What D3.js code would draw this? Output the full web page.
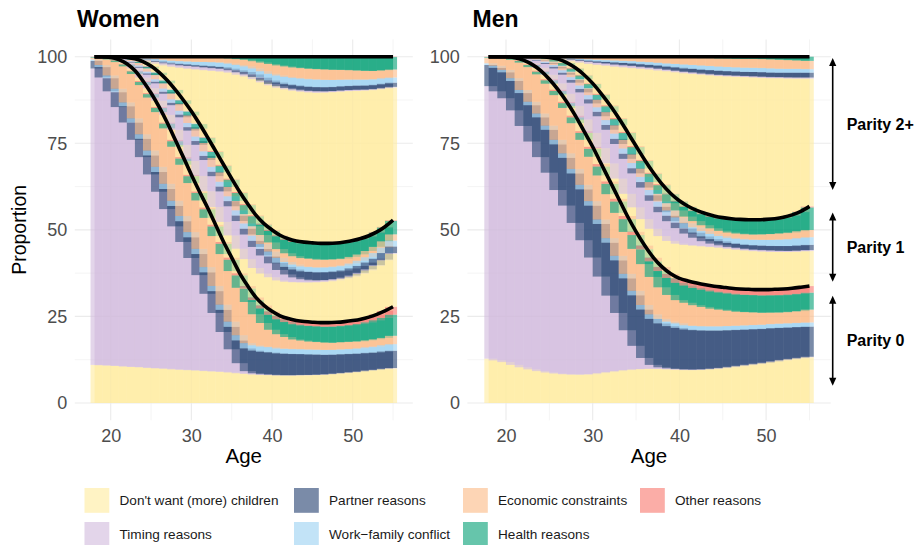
<!DOCTYPE html>
<html>
<head>
<meta charset="utf-8">
<script src="https://cdn.jsdelivr.net/npm/d3@7"></script>
<style>
  body { margin: 0; background: #fff; }
  text { font-family: "Liberation Sans", Arial, Helvetica, sans-serif; }
</style>
</head>
<body>
<script>
// ---- categories -------------------------------------------------------
const ages = [18,19,20,21,22,23,24,25,26,27,28,29,30,31,32,33,34,35,36,37,38,39,40,41,42,43,44,45,46,47,48,49,50,51,52,53,54,55];
const reasons = ["Don't want (more) children", "Timing reasons", "Partner reasons",
                 "Work\u2212family conflict", "Economic constraints", "Health reasons", "Other reasons"];
const parityLabels = ["Parity 0", "Parity 1", "Parity 2+"];
const panelTitles = ["Women", "Men"];
const xTicks = [20, 30, 40, 50];
const xMinorTicks = [25, 35, 45, 55];
const yTicks = [0, 25, 50, 75, 100];
const yMinorTicks = [12.5, 37.5, 62.5, 87.5];
// bracket extents (in percent) for the parity annotations
const bracketTop = [31, 55, 99.6];
const bracketBottom = [5, 35, 61.5];

// ---- women, parity 0 ----------------------------------------------------
const w0Dont    = [11,10.9,10.8,10.7,10.5,10.4,10.3,10.1,10,9.9,9.7,9.6,9.5,9.4,9.2,9.1,9,8.8,8.6,8.4,8.2,8.1,8,7.9,7.9,7.9,8,8,8.1,8.2,8.4,8.6,8.8,9,9.3,9.5,9.8,10];
const w0Timing  = [85.6,83.1,79.2,74.8,70.5,65.6,60.7,55.9,51,46.1,41.3,36.9,32.5,27.6,22.3,16.9,11.5,6.7,2.9,0.8,0.4,0.2,0.15,0.1,0.1,0.1,0.1,0.1,0.1,0.1,0.1,0.1,0.1,0.1,0.1,0.1,0.1,0.1];
const w0Partner = [2.2,3,3.8,4.3,4.7,5,5.3,5.5,5.7,5.8,5.9,6,6,6.1,6.2,6.3,6.4,6.5,6.6,6.6,6.6,6.5,6.4,6.3,6.2,6.1,6,5.9,5.8,5.6,5.5,5.4,5.3,5.2,5.1,5,5,5];
const w0WorkFam = [0.4,0.6,0.8,1.0,1.1,1.2,1.3,1.4,1.5,1.5,1.5,1.5,1.5,1.5,1.5,1.5,1.5,1.5,1.5,1.5,1.5,1.5,1.5,1.4,1.4,1.4,1.4,1.4,1.4,1.4,1.4,1.4,1.4,1.5,1.6,1.7,1.8,1.9];
const w0Econ    = [0.5,2.0,4.6,7.7,10.4,12.8,14.2,15.3,15.8,16.0,15.6,14.8,14.2,14.0,14.2,14.4,14.6,14.6,13.7,11.9,9.0,6.8,5.0,4.1,3.4,2.8,2.5,2.3,2.2,2.1,2.0,2.1,2.1,2.0,2.0,2.1,2.1,2.4];
const w0Health  = [0.2,0.3,0.4,0.5,0.6,0.8,0.9,1.0,1.2,1.4,1.6,1.8,2.0,2.2,2.5,2.8,3.0,3.3,3.6,3.9,4.1,4.2,4.3,4.3,4.3,4.4,4.4,4.5,4.5,4.6,4.7,4.7,4.8,5.0,5.2,5.5,5.8,6.1];
const w0Other   = [0.1,0.1,0.2,0.2,0.2,0.2,0.3,0.3,0.3,0.3,0.4,0.4,0.4,0.4,0.5,0.5,0.5,0.6,0.6,0.7,0.8,0.9,1.0,1.0,1.0,1.1,1.1,1.1,1.1,1.2,1.2,1.2,1.3,1.4,1.5,1.7,2.0,2.3];

// ---- women, parity 1 ----------------------------------------------------
const w1Dont    = [0,0,0.05,0.1,0.3,0.6,1.0,1.4,1.8,2.2,2.9,3.5,4.0,4.5,4.7,5.1,5.8,6.4,7.1,7.8,8.5,9.2,9.8,10.2,10.6,11.0,11.3,11.5,11.7,11.9,12.1,12.4,12.7,13.1,13.5,14.0,14.6,15.3];
const w1Timing  = [0,0,0.1,0.4,0.9,1.7,2.8,3.9,5.0,6.1,7.1,8.0,8.8,9.0,9.0,8.9,8.8,8.4,8.0,7.1,6.1,5.2,4.0,3.0,2.1,1.4,0.9,0.6,0.5,0.4,0.4,0.3,0.3,0.3,0.3,0.2,0.2,0.2];
const w1Partner = [0,0,0,0.1,0.1,0.2,0.3,0.4,0.5,0.6,0.7,0.8,1.0,1.1,1.2,1.3,1.4,1.5,1.6,1.7,1.8,1.9,2.0,2.1,2.2,2.3,2.3,2.4,2.3,2.3,2.2,2.1,2.1,2.0,2.0,1.9,1.9,1.9];
const w1WorkFam = [0,0,0,0.1,0.1,0.2,0.4,0.5,0.7,0.9,1.0,1.1,1.2,1.3,1.3,1.4,1.4,1.4,1.5,1.5,1.5,1.4,1.4,1.4,1.4,1.4,1.4,1.4,1.4,1.4,1.4,1.4,1.4,1.5,1.5,1.6,1.6,1.7];
const w1Econ    = [0,0,0.03,0.1,0.2,0.4,0.7,0.9,1.2,1.5,1.7,2.0,2.2,2.3,2.4,2.6,2.7,2.7,2.7,2.7,2.7,2.6,2.6,2.5,2.5,2.4,2.4,2.4,2.3,2.2,2.1,2.0,1.9,1.8,1.8,1.8,1.8,1.8];
const w1Health  = [0,0,0.02,0.05,0.1,0.2,0.3,0.5,0.7,0.8,1.0,1.0,1.1,1.3,1.5,1.7,1.9,2.1,2.3,2.6,2.9,3.0,3.3,3.7,3.9,4.1,4.3,4.4,4.5,4.5,4.5,4.6,4.5,4.4,4.2,4.1,4.0,3.9];
const w1Other   = [0,0,0,0,0.1,0.1,0.1,0.2,0.1,0.1,0.1,0.1,0.1,0.1,0.2,0.3,0.3,0.3,0.3,0.3,0.3,0.3,0.3,0.3,0.3,0.3,0.3,0.2,0.2,0.2,0.2,0.2,0.2,0.2,0.2,0.2,0.2,0.2];

// ---- women, parity 2+ ---------------------------------------------------
const w2Dont    = [0,0,0,0,0.1,0.3,0.6,1.3,2.5,4.3,6.6,9.3,12.3,15.7,19.3,23.1,26.9,30.6,33.9,36.9,39.4,40.8,41.6,42.5,43.0,43.3,43.4,43.4,43.5,43.6,43.6,43.5,43.2,42.7,42.0,41.1,39.9,38.3];
const w2Timing  = [0,0,0,0,0.05,0.1,0.25,0.4,0.5,0.6,0.7,0.7,0.8,0.8,0.8,0.8,0.8,0.7,0.7,0.6,0.6,0.5,0.4,0.4,0.4,0.4,0.4,0.4,0.4,0.3,0.3,0.3,0.3,0.3,0.2,0.2,0.2,0.2];
const w2Partner = [0,0,0,0,0,0.05,0.1,0.2,0.3,0.3,0.3,0.4,0.4,0.4,0.5,0.5,0.5,0.5,0.6,0.7,0.8,0.9,1.0,1.1,1.1,1.2,1.2,1.2,1.2,1.2,1.2,1.2,1.2,1.2,1.2,1.2,1.2,1.2];
const w2WorkFam = [0,0,0,0,0,0.05,0.15,0.3,0.5,0.6,0.7,0.8,0.9,1.0,1.1,1.2,1.3,1.4,1.5,1.6,1.7,1.8,1.9,2.0,2.1,2.1,2.2,2.2,2.2,2.1,2.0,1.9,1.8,1.7,1.7,1.6,1.6,1.5];
const w2Econ    = [0,0,0,0,0.05,0.1,0.25,0.4,0.6,0.8,1.0,1.1,1.2,1.2,1.2,1.3,1.4,1.5,1.7,1.9,2.1,2.5,2.8,2.9,3.0,3.0,3.0,3.0,3.0,3.0,2.9,2.8,2.7,2.6,2.5,2.4,2.3,2.3];
const w2Health  = [0,0,0,0,0,0,0.05,0.1,0.1,0.2,0.2,0.2,0.2,0.3,0.3,0.3,0.3,0.5,0.7,0.9,1.2,1.6,2.0,2.4,2.7,3.0,3.2,3.4,3.5,3.6,3.7,3.7,3.8,3.9,4.0,4.0,3.8,3.6];
const w2Other   = [0,0,0,0,0,0,0,0,0,0,0,0,0,0,0,0,0,0,0,0,0.1,0.1,0.1,0.1,0.1,0.1,0.1,0.1,0.1,0.1,0.1,0.1,0.1,0.1,0.1,0.1,0.1,0.1];

// ---- men, parity 0 ------------------------------------------------------
const m0Dont    = [12.8,12.3,11.8,11,10.3,9.7,9.2,8.8,8.5,8.3,8.2,8.2,8.3,8.6,8.9,9.2,9.5,9.7,9.8,9.9,9.8,9.7,9.6,9.5,9.5,9.6,9.8,10,10.3,10.6,10.9,11.2,11.5,11.9,12.3,12.6,12.9,13.2];
const m0Timing  = [78.7,77.7,76.2,73.5,69.7,65.8,61.8,57.7,53,48.7,43.8,38.8,33.7,27.9,22.1,16.8,11.5,6.8,3.2,1.1,0.5,0.3,0.2,0.15,0.15,0.15,0.15,0.15,0.15,0.15,0.15,0.15,0.15,0.15,0.15,0.15,0.15,0.15];
const m0Partner = [6.1,6.8,7.5,8.5,9.5,10.5,11.5,12.4,13.2,13.8,14.3,14.7,15,15.2,15.3,15.2,15,14.6,14,13.3,12.7,12.2,11.9,11.6,11.4,11.2,11.0,10.8,10.6,10.4,10.2,10.0,9.8,9.6,9.3,9.1,8.9,8.7];
const m0WorkFam = [0.5,0.6,0.7,0.8,0.9,1.0,1.1,1.2,1.3,1.3,1.3,1.3,1.3,1.3,1.3,1.3,1.3,1.3,1.3,1.3,1.3,1.3,1.3,1.2,1.2,1.2,1.2,1.2,1.2,1.2,1.2,1.2,1.2,1.2,1.2,1.2,1.2,1.2];
const m0Econ    = [1.6,2.3,3.4,5.3,7.9,10.0,11.3,12.1,12.9,13.1,13.2,13.0,12.8,12.7,12.7,12.4,12.1,12.1,11.8,10.8,9.1,7.7,6.7,6.5,6.0,5.6,5.1,4.8,4.4,4.0,3.8,3.6,3.4,3.3,3.2,3.3,3.4,3.7];
const m0Health  = [0.2,0.2,0.3,0.4,0.5,0.6,0.8,1.0,1.2,1.4,1.7,2.0,2.3,2.6,3.0,3.3,3.7,4.0,4.3,4.5,4.7,4.9,5.0,5.0,5.0,5.0,5.0,5.0,5.0,5.0,5.0,5.0,5.0,5.0,5.0,5.0,5.0,4.9];
const m0Other   = [0.1,0.1,0.1,0.2,0.2,0.2,0.3,0.3,0.4,0.4,0.5,0.5,0.6,0.7,0.7,0.8,0.9,1.0,1.1,1.1,1.2,1.2,1.3,1.3,1.4,1.4,1.5,1.5,1.5,1.6,1.6,1.6,1.7,1.7,1.8,1.8,1.9,1.9];

// ---- men, parity 1 ------------------------------------------------------
const m1Dont    = [0,0,0,0.05,0.2,0.4,0.8,1.3,1.8,2.3,2.8,3.4,4.0,4.6,5.2,5.8,6.4,7.0,7.6,8.3,8.9,9.5,10.0,10.4,10.8,11.1,11.3,11.4,11.4,11.3,11.2,11.1,11.0,10.8,10.7,10.5,10.3,10.1];
const m1Timing  = [0,0,0,0.15,0.5,1.1,2.0,3.1,4.3,5.5,6.7,7.8,8.5,9.2,9.7,10.0,10.1,9.8,9.1,8.1,6.9,5.7,4.5,3.3,2.3,1.5,1.0,0.7,0.5,0.5,0.4,0.4,0.4,0.4,0.3,0.3,0.3,0.3];
const m1Partner = [0,0,0,0.02,0.05,0.1,0.2,0.3,0.5,0.6,0.8,1.0,1.2,1.3,1.4,1.5,1.5,1.5,1.6,1.6,1.6,1.6,1.6,1.5,1.5,1.4,1.3,1.2,1.2,1.2,1.2,1.3,1.3,1.3,1.4,1.4,1.5,1.5];
const m1WorkFam = [0,0,0,0.02,0.05,0.1,0.2,0.4,0.5,0.7,0.8,1.0,1.2,1.3,1.4,1.5,1.5,1.5,1.5,1.5,1.5,1.5,1.5,1.5,1.5,1.5,1.5,1.5,1.5,1.5,1.6,1.6,1.7,1.8,1.9,2.0,2.1,2.2];
const m1Econ    = [0,0,0,0.04,0.1,0.3,0.5,0.7,1.0,1.3,1.6,1.8,2.0,2.2,2.3,2.4,2.5,2.5,2.4,2.3,2.2,2.1,2.0,1.9,1.8,1.7,1.6,1.5,1.5,1.5,1.5,1.5,1.6,1.7,1.8,1.9,2.0,2.1];
const m1Health  = [0,0,0,0.02,0.05,0.15,0.25,0.4,0.6,0.8,0.9,1.1,1.2,1.4,1.7,1.8,2.0,2.1,2.2,2.4,2.5,2.6,2.6,2.8,2.9,3.2,3.4,3.6,3.8,3.9,4.0,4.1,4.1,4.2,4.4,4.9,5.5,6.5];
const m1Other   = [0,0,0,0,0.05,0.05,0.05,0.1,0.1,0.1,0.2,0.2,0.2,0.3,0.3,0.3,0.3,0.3,0.3,0.3,0.3,0.2,0.2,0.2,0.2,0.2,0.2,0.2,0.2,0.2,0.2,0.2,0.2,0.2,0.2,0.2,0.2,0.3];

// ---- men, parity 2+ -----------------------------------------------------
const m2Dont    = [0,0,0,0,0,0,0,0.1,0.35,0.9,1.9,3.5,5.6,8.3,11.4,14.8,18.6,22.5,26.3,29.8,32.8,35.3,37.1,38.4,39.4,40.1,40.6,40.9,41.1,41.2,41.2,41.1,40.9,40.6,40.2,39.4,38.4,36.9];
const m2Timing  = [0,0,0,0,0,0,0,0.05,0.15,0.3,0.45,0.5,0.6,0.6,0.6,0.6,0.6,0.6,0.5,0.5,0.5,0.4,0.4,0.4,0.4,0.3,0.3,0.3,0.3,0.3,0.3,0.3,0.3,0.3,0.3,0.3,0.3,0.3];
const m2Partner = [0,0,0,0,0,0,0,0.02,0.05,0.1,0.2,0.25,0.3,0.4,0.5,0.6,0.7,0.7,0.8,0.8,0.9,0.9,1.0,1.0,1.1,1.1,1.2,1.2,1.2,1.2,1.2,1.3,1.3,1.3,1.3,1.4,1.4,1.4];
const m2WorkFam = [0,0,0,0,0,0,0,0.01,0.05,0.1,0.2,0.3,0.4,0.5,0.5,0.6,0.6,0.7,0.7,0.8,0.8,0.9,1.0,1.1,1.1,1.2,1.2,1.2,1.2,1.2,1.2,1.2,1.2,1.2,1.1,1.1,1.1,1.0];
const m2Econ    = [0,0,0,0,0,0,0,0.02,0.1,0.25,0.4,0.55,0.7,0.8,0.9,1.0,1.1,1.2,1.3,1.4,1.6,1.8,1.9,2.0,2.1,2.2,2.3,2.4,2.5,2.5,2.6,2.6,2.6,2.6,2.6,2.5,2.4,2.4];
const m2Health  = [0,0,0,0,0,0,0,0,0,0.05,0.05,0.1,0.1,0.1,0.1,0.1,0.1,0.1,0.2,0.2,0.2,0.2,0.2,0.3,0.3,0.4,0.4,0.5,0.5,0.6,0.6,0.6,0.7,0.8,0.9,1.0,1.1,1.2];
const m2Other   = [0,0,0,0,0,0,0,0,0,0,0,0,0,0,0,0,0,0,0,0,0,0,0,0,0,0,0,0,0,0,0,0,0,0,0,0,0,0];

// series grouped by parity, reasons in legend order (bottom to top inside each parity)
const womenSeries = [
  [w0Dont, w0Timing, w0Partner, w0WorkFam, w0Econ, w0Health, w0Other],
  [w1Dont, w1Timing, w1Partner, w1WorkFam, w1Econ, w1Health, w1Other],
  [w2Dont, w2Timing, w2Partner, w2WorkFam, w2Econ, w2Health, w2Other]
];
const menSeries = [
  [m0Dont, m0Timing, m0Partner, m0WorkFam, m0Econ, m0Health, m0Other],
  [m1Dont, m1Timing, m1Partner, m1WorkFam, m1Econ, m1Health, m1Other],
  [m2Dont, m2Timing, m2Partner, m2WorkFam, m2Econ, m2Health, m2Other]
];
[womenSeries, menSeries].forEach(s => s.forEach(p => p.forEach((arr, r) => {
  if (arr.length !== ages.length) throw new Error("series length " + arr.length + " for reason " + r);
})));

// ---- styling ------------------------------------------------------------
const reasonFill = ["#FFEB9D", "#D0B9DC", "#213E6E", "#99D0F2", "#FCB984", "#009E73", "#F8766D"];
const barOpacity = 0.6;
const gridColor = "#EBEBEB";
const tickColor = "#4D4D4D";

const W = 918, H = 545;
const svg = d3.select("body").append("svg").attr("width", W).attr("height", H);

const panelTop = 39.4, panelBottom = 420.3;
const y = d3.scaleLinear().domain([-5, 105]).range([panelBottom, panelTop]);

const panels = [
  { title: panelTitles[0], series: womenSeries, range: [74.8, 412.8], titleX: 77 },
  { title: panelTitles[1], series: menSeries,   range: [467.4, 830.7], titleX: 472.5 }
];

panels.forEach((p, pi) => {
  const x = d3.scaleLinear().domain([15.55, 57.45]).range(p.range);
  const g = svg.append("g");

  // grid
  const grid = g.append("g");
  grid.selectAll("line.ymin").data(yMinorTicks).join("line")
    .attr("x1", p.range[0]).attr("x2", p.range[1]).attr("y1", d => y(d)).attr("y2", d => y(d))
    .attr("stroke", gridColor).attr("stroke-width", 0.55);
  grid.selectAll("line.xmin").data(xMinorTicks).join("line")
    .attr("y1", panelTop).attr("y2", panelBottom).attr("x1", d => x(d)).attr("x2", d => x(d))
    .attr("stroke", gridColor).attr("stroke-width", 0.55);
  grid.selectAll("line.ymaj").data(yTicks).join("line")
    .attr("x1", p.range[0]).attr("x2", p.range[1]).attr("y1", d => y(d)).attr("y2", d => y(d))
    .attr("stroke", gridColor).attr("stroke-width", 1.1);
  grid.selectAll("line.xmaj").data(xTicks).join("line")
    .attr("y1", panelTop).attr("y2", panelBottom).attr("x1", d => x(d)).attr("x2", d => x(d))
    .attr("stroke", gridColor).attr("stroke-width", 1.1);

  // stacked shares per age, rescaled to percent
  const stacks = ages.map((age, i) => {
    let total = 0;
    p.series.forEach(par => par.forEach(arr => { total += arr[i]; }));
    let acc = 0;
    const segs = [], tops = [];
    p.series.forEach((par, k) => {
      par.forEach((arr, r) => {
        const v = arr[i] * 100 / total;
        if (v > 0) segs.push({ age, r, k, y0: acc, y1: acc + v });
        acc += v;
      });
      tops.push(acc);
    });
    return { age, segs, tops };
  });

  const clipId = "clip" + pi;
  g.append("clipPath").attr("id", clipId).append("rect")
    .attr("x", x(17.5)).attr("width", x(55.5) - x(17.5))
    .attr("y", panelTop).attr("height", panelBottom - panelTop);

  const bars = g.append("g").attr("clip-path", `url(#${clipId})`);
  bars.selectAll("g.age").data(stacks).join("g")
    .selectAll("rect").data(d => d.segs).join("rect")
      .attr("x", d => x(d.age - 1))
      .attr("width", d => x(d.age + 1) - x(d.age - 1))
      .attr("y", d => y(d.y1))
      .attr("height", d => y(d.y0) - y(d.y1))
      .attr("fill", d => reasonFill[d.r])
      .attr("fill-opacity", barOpacity);

  // parity boundaries
  [0, 1, 2].forEach(k => {
    const line = d3.line().x(d => x(d.age)).y(d => y(d.tops[k])).curve(d3.curveMonotoneX);
    g.append("path").datum(stacks).attr("d", line)
      .attr("fill", "none").attr("stroke", "#000").attr("stroke-width", 3.6);
  });

  // axes
  const xAxis = g.append("g").attr("transform", `translate(0,${panelBottom})`)
    .call(d3.axisBottom(x).tickValues(xTicks).tickSize(0).tickPadding(9));
  xAxis.select(".domain").remove();
  xAxis.attr("font-size", 18).attr("font-family", "Liberation Sans, Arial, sans-serif");
  xAxis.selectAll("text").attr("fill", tickColor);

  const yAxis = g.append("g").attr("transform", `translate(${p.range[0]},0)`)
    .call(d3.axisLeft(y).tickValues(yTicks).tickSize(0).tickPadding(7.5).tickFormat(d3.format("d")));
  yAxis.select(".domain").remove();
  yAxis.attr("font-size", 18).attr("font-family", "Liberation Sans, Arial, sans-serif");
  yAxis.selectAll("text").attr("fill", tickColor);

  // axis title and panel title
  g.append("text").attr("x", (p.range[0] + p.range[1]) / 2).attr("y", 463)
    .attr("text-anchor", "middle").attr("font-size", 20.5).attr("fill", "#000").text("Age");
  g.append("text").attr("x", p.titleX).attr("y", 26.7)
    .attr("font-size", 23).attr("font-weight", "bold").attr("fill", "#000").text(p.title);

  // parity brackets beside the second panel
  if (pi === 1) {
    const ax = 832.7;
    const ann = g.append("g");
    parityLabels.forEach((lab, k) => {
      const yt = y(bracketTop[k]), yb = y(bracketBottom[k]);
      ann.append("line").attr("x1", ax).attr("x2", ax).attr("y1", yt + 3).attr("y2", yb - 3)
        .attr("stroke", "#000").attr("stroke-width", 1.6);
      ann.append("path").attr("d", `M${ax},${yt} L${ax - 3.6},${yt + 8} L${ax + 3.6},${yt + 8} Z`).attr("fill", "#000");
      ann.append("path").attr("d", `M${ax},${yb} L${ax - 3.6},${yb - 8} L${ax + 3.6},${yb - 8} Z`).attr("fill", "#000");
      ann.append("text").attr("x", 846.7).attr("y", (yt + yb) / 2).attr("dy", "0.35em")
        .attr("font-size", 16).attr("font-weight", "bold").attr("fill", "#000").text(lab);
    });
  }
});

// y axis title
svg.append("text").attr("transform", `translate(25.5,${(panelTop + panelBottom) / 2}) rotate(-90)`)
  .attr("text-anchor", "middle").attr("font-size", 19.5).attr("fill", "#000").text("Proportion");

// legend: two rows, filled column by column
const legendCols = [84.5, 294, 463, 640];
const legendRows = [488, 522];
const legend = svg.append("g");
reasons.forEach((name, r) => {
  const col = Math.floor(r / 2), row = r % 2;
  const lx = legendCols[col], ly = legendRows[row];
  legend.append("rect").attr("x", lx).attr("y", ly).attr("width", 24.8).attr("height", 24.8)
    .attr("fill", reasonFill[r]).attr("fill-opacity", barOpacity);
  legend.append("text").attr("x", lx + 35).attr("y", ly + 12.4).attr("dy", "0.35em")
    .attr("font-size", 13.6).attr("fill", "#1A1A1A").text(name);
});
</script>
</body>
</html>
